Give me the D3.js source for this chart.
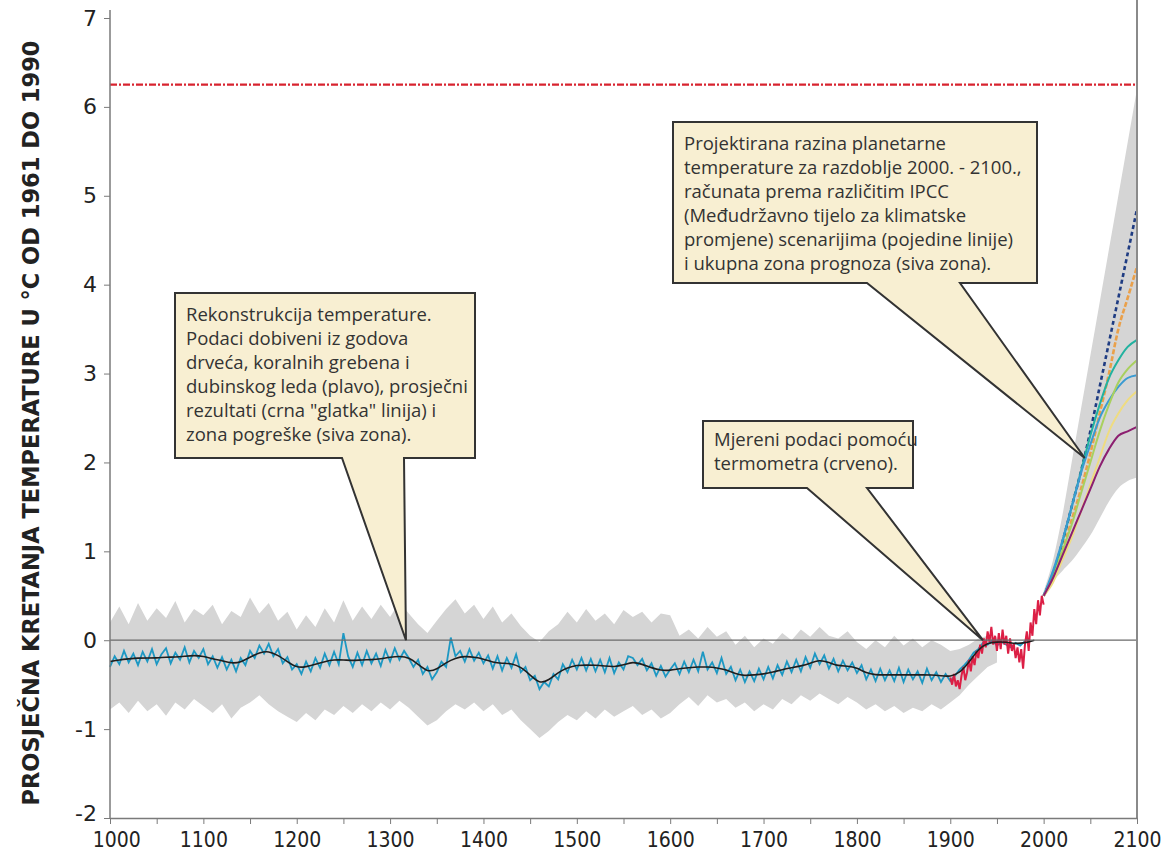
<!DOCTYPE html>
<html>
<head>
<meta charset="utf-8">
<script src="https://cdn.jsdelivr.net/npm/d3@7"></script>
<style>
  body { margin: 0; background: #fff; }
  svg { display: block; }
</style>
</head>
<body>
<svg id="chart"></svg>
<script>
// Reconstructed temperature (blue), every 5 years from 1000
var blueStart = 1000, blueStep = 5;
var blueTemp = [
  -0.30,-0.18,-0.27,-0.12,-0.25,-0.15,-0.28,-0.13,-0.24,-0.10,
  -0.27,-0.16,-0.09,-0.26,-0.14,-0.22,-0.08,-0.25,-0.12,-0.20,
  -0.10,-0.27,-0.18,-0.31,-0.19,-0.33,-0.22,-0.35,-0.20,-0.28,
  -0.12,-0.20,-0.06,-0.15,-0.04,-0.18,-0.10,-0.26,-0.19,-0.33,
  -0.27,-0.38,-0.24,-0.35,-0.20,-0.31,-0.15,-0.28,-0.13,-0.27,
   0.08,-0.18,-0.30,-0.14,-0.28,-0.12,-0.26,-0.15,-0.29,-0.11,
  -0.24,-0.09,-0.22,-0.12,-0.20,-0.30,-0.22,-0.38,-0.30,-0.44,
  -0.36,-0.24,-0.30, 0.03,-0.18,-0.12,-0.24,-0.10,-0.23,-0.14,
  -0.26,-0.17,-0.32,-0.18,-0.34,-0.20,-0.31,-0.16,-0.36,-0.30,
  -0.45,-0.40,-0.55,-0.47,-0.52,-0.38,-0.44,-0.27,-0.36,-0.22,
  -0.33,-0.20,-0.34,-0.21,-0.35,-0.22,-0.36,-0.20,-0.37,-0.25,
  -0.33,-0.18,-0.20,-0.28,-0.21,-0.34,-0.26,-0.40,-0.29,-0.41,
  -0.33,-0.26,-0.38,-0.24,-0.36,-0.22,-0.35,-0.13,-0.33,-0.25,
  -0.37,-0.20,-0.38,-0.30,-0.45,-0.33,-0.47,-0.35,-0.46,-0.32,
  -0.44,-0.30,-0.43,-0.28,-0.39,-0.24,-0.36,-0.22,-0.35,-0.19,
  -0.31,-0.15,-0.27,-0.17,-0.32,-0.21,-0.35,-0.23,-0.34,-0.25,
  -0.37,-0.28,-0.44,-0.33,-0.46,-0.32,-0.45,-0.34,-0.46,-0.31,
  -0.47,-0.33,-0.44,-0.35,-0.48,-0.32,-0.45,-0.36,-0.47,-0.38,
  -0.46,-0.40,-0.33,-0.28,-0.22,-0.14,-0.10,-0.03,-0.05, 0.00,
  -0.06,-0.02,-0.05,-0.08,-0.03,-0.06,-0.01
];

// Smoothed average (black), every 10 years from 1000
var smoothStart = 1000, smoothStep = 10;
var smoothTemp = [
  -0.24,-0.22,-0.21,-0.20,-0.20,-0.20,-0.19,-0.19,-0.18,-0.17,
  -0.18,-0.21,-0.23,-0.26,-0.25,-0.19,-0.14,-0.12,-0.17,-0.24,
  -0.31,-0.30,-0.27,-0.24,-0.22,-0.22,-0.23,-0.22,-0.22,-0.21,
  -0.19,-0.18,-0.19,-0.27,-0.36,-0.33,-0.25,-0.20,-0.18,-0.19,
  -0.21,-0.25,-0.26,-0.26,-0.30,-0.39,-0.49,-0.45,-0.36,-0.31,
  -0.28,-0.28,-0.28,-0.29,-0.30,-0.28,-0.24,-0.27,-0.31,-0.34,
  -0.34,-0.32,-0.31,-0.30,-0.30,-0.31,-0.33,-0.38,-0.40,-0.39,
  -0.38,-0.36,-0.33,-0.31,-0.29,-0.26,-0.22,-0.25,-0.29,-0.29,
  -0.31,-0.37,-0.39,-0.39,-0.39,-0.39,-0.39,-0.39,-0.39,-0.40,
  -0.41,-0.37,-0.25,-0.10,-0.03,-0.02,-0.02,-0.04,-0.03, 0.00
];

// Error zone of the reconstruction (grey), every 10 years from 1000
var bandStart = 1000, bandStep = 10;
var bandUpper = [
   0.20, 0.38, 0.18, 0.42, 0.22, 0.36, 0.25, 0.44, 0.20, 0.35,
   0.28, 0.40, 0.18, 0.33, 0.26, 0.48, 0.30, 0.42, 0.22, 0.32,
   0.12, 0.28, 0.15, 0.36, 0.20, 0.45, 0.22, 0.38, 0.24, 0.40,
   0.26, 0.43, 0.30, 0.18, 0.08, 0.22, 0.35, 0.46, 0.30, 0.40,
   0.24, 0.38, 0.20, 0.30, 0.16, 0.05,-0.02, 0.10, 0.18, 0.32,
   0.20, 0.35, 0.22, 0.30, 0.18, 0.34, 0.26, 0.32, 0.20, 0.30,
   0.28, 0.05, 0.12, 0.02, 0.15, 0.04, 0.10,-0.05, 0.05,-0.08,
   0.02,-0.04, 0.08, 0.00, 0.12, 0.04, 0.15, 0.05, 0.02, 0.10,
  -0.02,-0.10, 0.00,-0.08, 0.05,-0.06, 0.02,-0.08, 0.00,-0.05,
  -0.12,-0.10,-0.05, 0.02, 0.05, 0.03
];
var bandLower = [
  -0.78,-0.70,-0.82,-0.68,-0.80,-0.72,-0.85,-0.70,-0.78,-0.66,
  -0.74,-0.82,-0.72,-0.88,-0.76,-0.70,-0.62,-0.72,-0.80,-0.86,
  -0.92,-0.82,-0.90,-0.78,-0.84,-0.74,-0.82,-0.72,-0.80,-0.70,
  -0.78,-0.68,-0.76,-0.86,-0.96,-0.90,-0.80,-0.72,-0.78,-0.70,
  -0.80,-0.72,-0.84,-0.78,-0.90,-1.00,-1.10,-1.02,-0.92,-0.84,
  -0.90,-0.80,-0.88,-0.78,-0.86,-0.80,-0.74,-0.84,-0.78,-0.88,
  -0.82,-0.72,-0.64,-0.74,-0.62,-0.70,-0.66,-0.76,-0.70,-0.80,
  -0.72,-0.78,-0.66,-0.72,-0.62,-0.68,-0.60,-0.66,-0.72,-0.64,
  -0.70,-0.78,-0.72,-0.80,-0.74,-0.82,-0.76,-0.80,-0.72,-0.78,
  -0.70,-0.62,-0.50,-0.40,-0.30,-0.25
];

// Thermometer measurements (red), every 2 years from 1900
var redStart = 1900, redStep = 2;
var redTemp = [
  -0.42,-0.50,-0.38,-0.52,-0.45,-0.55,-0.40,-0.30,-0.45,-0.36,
  -0.22,-0.35,-0.18,-0.28,-0.12,-0.20,-0.05,-0.15, 0.02,-0.08,
   0.10,-0.02, 0.15,-0.05, 0.05,-0.12, 0.08,-0.10, 0.12,-0.05,
   0.05,-0.15, 0.02,-0.12,-0.04,-0.20,-0.08,-0.25,-0.10,-0.32,
  -0.05, 0.10,-0.12, 0.20, 0.05, 0.35, 0.18, 0.45, 0.28, 0.50,
   0.40
];

// IPCC projections 2000-2100, every 10 years
var projYears = [2000, 2010, 2020, 2030, 2040, 2050, 2060, 2070, 2080, 2090, 2100];
var projUpper = [0.55, 0.90, 1.40, 2.00, 2.60, 3.20, 3.80, 4.40, 5.00, 5.60, 6.20];
var projLower = [0.50, 0.66, 0.78, 0.89, 1.03, 1.18, 1.37, 1.56, 1.71, 1.79, 1.83];
var scenarioNames = ["navy", "orange", "teal", "blue", "green", "yellow", "purple"];
var scenarioValues = [
  [0.50, 0.75, 1.10, 1.50, 1.90, 2.35, 2.85, 3.35, 3.85, 4.35, 4.85],
  [0.50, 0.70, 1.00, 1.35, 1.70, 2.10, 2.55, 3.00, 3.50, 3.85, 4.20],
  [0.50, 0.75, 1.10, 1.50, 1.90, 2.30, 2.65, 2.95, 3.15, 3.30, 3.38],
  [0.50, 0.78, 1.12, 1.50, 1.88, 2.20, 2.50, 2.70, 2.85, 2.95, 2.98],
  [0.50, 0.70, 1.00, 1.30, 1.65, 2.00, 2.35, 2.65, 2.90, 3.05, 3.15],
  [0.50, 0.65, 0.90, 1.15, 1.45, 1.75, 2.05, 2.35, 2.55, 2.70, 2.80],
  [0.50, 0.70, 0.95, 1.20, 1.45, 1.70, 1.95, 2.15, 2.30, 2.35, 2.40]
];
var scenarioColors = ["#1f3c82", "#eaa04a", "#22b2a0", "#3a9bd2", "#a9d05e", "#efdc80", "#8c1f70"];
var scenarioDash = ["4,3", "5,2", null, null, null, null, null];

var maxLine = 6.25;   // red dash-dot limit
var yTicks = [-2, -1, 0, 1, 2, 3, 4, 5, 6, 7];
var xLabels = [1000, 1100, 1200, 1300, 1400, 1500, 1600, 1700, 1800, 1900, 2000, 2100];

// Callout texts with the point each one aims at [year, value]
var notes = [
  { lines: ["Rekonstrukcija temperature.", "Podaci dobiveni iz godova", "drveća, koralnih grebena i",
            "dubinskog leda (plavo), prosječni", "rezultati (crna \"glatka\" linija) i", "zona pogreške (siva zona)."],
    target: [1317, 0], box: [175, 293, 300, 165], base: [342, 404], lh: 24, top: 28 },
  { lines: ["Mjereni podaci pomoću", "termometra (crveno)."],
    target: [1935, 0], box: [703, 421, 210, 67], base: [807, 867], lh: 24, top: 25 },
  { lines: ["Projektirana razina planetarne", "temperature za razdoblje 2000. - 2100.,",
            "računata prema različitim IPCC", "(Međudržavno tijelo za klimatske",
            "promjene) scenarijima (pojedine linije)", "i ukupna zona prognoza (siva zona)."],
    target: [2044, 2.05], box: [673, 122, 364, 161], base: [867, 960], lh: 24, top: 28 }
];

var W = 1175, H = 857;
var svg = d3.select("#chart").attr("width", W).attr("height", H);

var x = d3.scaleLinear().domain([1000, 2100]).range([110, 1137]);
var y = d3.scaleLinear().domain([-2, 7]).range([818, 18]);

function series(start, step, vals) {
  return vals.map((v, i) => ({ year: start + i * step, v: v }));
}

// Grey error zone
var bandData = bandUpper.map((u, i) => ({ year: bandStart + i * bandStep, hi: u, lo: bandLower[i] }));
svg.append("path")
  .datum(bandData)
  .attr("fill", "#d5d5d5")
  .attr("d", d3.area().x(d => x(d.year)).y0(d => y(d.lo)).y1(d => y(d.hi)));

// Projection zone
var projBand = projYears.map((yr, i) => ({ year: yr, hi: projUpper[i], lo: projLower[i] }));
svg.append("path")
  .datum(projBand)
  .attr("fill", "#d5d5d5")
  .attr("d", d3.area().curve(d3.curveMonotoneX).x(d => x(d.year)).y0(d => y(d.lo)).y1(d => y(d.hi)));

var line = d3.line().x(d => x(d.year)).y(d => y(d.v));

// Blue reconstruction
svg.append("path")
  .datum(series(blueStart, blueStep, blueTemp))
  .attr("fill", "none").attr("stroke", "#1d98c3").attr("stroke-width", 1.8)
  .attr("d", line);

// Red thermometer data
svg.append("path")
  .datum(series(redStart, redStep, redTemp))
  .attr("fill", "none").attr("stroke", "#dc1f45").attr("stroke-width", 2)
  .attr("d", line);

// Black smooth line
svg.append("path")
  .datum(series(smoothStart, smoothStep, smoothTemp))
  .attr("fill", "none").attr("stroke", "#1e1e1e").attr("stroke-width", 1.6)
  .attr("d", d3.line().curve(d3.curveBasis).x(d => x(d.year)).y(d => y(d.v)));

// Scenario lines
var smoothLine = d3.line().curve(d3.curveMonotoneX).x(d => x(d.year)).y(d => y(d.v));
scenarioNames.forEach(function(name, k) {
  svg.append("path")
    .datum(projYears.map((yr, i) => ({ year: yr, v: scenarioValues[k][i] })))
    .attr("class", "scenario " + name)
    .attr("fill", "none")
    .attr("stroke", scenarioColors[k])
    .attr("stroke-width", scenarioDash[k] ? 2.6 : 2)
    .attr("stroke-dasharray", scenarioDash[k])
    .attr("d", smoothLine);
});

// Zero line
svg.append("line")
  .attr("x1", x(1000)).attr("x2", x(2100))
  .attr("y1", y(0)).attr("y2", y(0))
  .attr("stroke", "#6a6a6a").attr("stroke-width", 1.3);

// Red dash-dot limit line
svg.append("line")
  .attr("x1", x(1000)).attr("x2", x(2100))
  .attr("y1", y(maxLine)).attr("y2", y(maxLine))
  .attr("stroke", "#d8232f").attr("stroke-width", 2.2)
  .attr("stroke-dasharray", "7,2,2,2");

// Right border line
svg.append("line")
  .attr("x1", x(2100)).attr("x2", x(2100))
  .attr("y1", 0).attr("y2", y(-2))
  .attr("stroke", "#8a8a8a").attr("stroke-width", 2);

// Y axis
var yAxis = svg.append("g")
  .attr("transform", "translate(" + x(1000) + ",0)")
  .call(d3.axisLeft(y).tickValues(yTicks).tickSize(6).tickSizeOuter(0).tickPadding(7).tickFormat(d3.format("d")));
yAxis.select(".domain").attr("stroke", "#7a7a7a").attr("stroke-width", 1.5)
  .attr("d", "M0," + (y(7) - 8) + "V" + y(-2));
yAxis.selectAll(".tick line").attr("stroke", "#7a7a7a");
yAxis.selectAll(".tick text")
  .attr("font-family", "DejaVu Sans, sans-serif")
  .attr("font-size", 22)
  .attr("fill", "#222")
  .text(d => d < 0 ? "-" + Math.abs(d) : d);
// lift the lowest label a little so it clears the year labels
yAxis.selectAll(".tick text").filter(d => d === -2).attr("dy", "0.1em");

// X axis, minor ticks every 50 years
var xAxis = svg.append("g")
  .attr("transform", "translate(0," + y(-2) + ")")
  .call(d3.axisBottom(x).tickValues(d3.range(1000, 2101, 50)).tickSize(6).tickSizeOuter(0).tickPadding(8)
    .tickFormat(d => xLabels.indexOf(d) >= 0 ? d : ""));
xAxis.select(".domain").attr("stroke", "#7a7a7a").attr("stroke-width", 1.5);
xAxis.selectAll(".tick line").attr("stroke", "#7a7a7a");
xAxis.selectAll(".tick text")
  .attr("font-family", "DejaVu Sans Condensed, DejaVu Sans, sans-serif")
  .attr("font-size", 21)
  .attr("fill", "#222");
xAxis.selectAll(".tick text").filter(d => d === 1000).attr("dx", "0.3em");

// Y axis title
svg.append("text")
  .attr("transform", "translate(39,423) rotate(-90)")
  .attr("text-anchor", "middle")
  .attr("font-family", "DejaVu Sans Condensed, DejaVu Sans, sans-serif")
  .attr("font-weight", "bold")
  .attr("font-size", 23)
  .attr("textLength", 765)
  .attr("lengthAdjust", "spacingAndGlyphs")
  .attr("fill", "#222")
  .text("PROSJEČNA KRETANJA TEMPERATURE U °C OD 1961 DO 1990");

// Callouts: box with a wedge pointing at the data
notes.forEach(function(n) {
  var bx = n.box[0], by = n.box[1], bw = n.box[2], bh = n.box[3];
  var tx = x(n.target[0]), ty = y(n.target[1]);
  var p = d3.path();
  p.moveTo(bx, by);
  p.lineTo(bx + bw, by);
  p.lineTo(bx + bw, by + bh);
  p.lineTo(n.base[1], by + bh);
  p.lineTo(tx, ty);
  p.lineTo(n.base[0], by + bh);
  p.lineTo(bx, by + bh);
  p.closePath();
  svg.append("path")
    .attr("d", p.toString())
    .attr("fill", "#f8efd2")
    .attr("stroke", "#333")
    .attr("stroke-width", 2)
    .attr("stroke-linejoin", "miter");

  var t = svg.append("text")
    .attr("font-family", "Open Sans, sans-serif")
    .attr("font-size", 18.5)
    .attr("fill", "#333");
  n.lines.forEach(function(s, i) {
    t.append("tspan")
      .attr("x", bx + 11)
      .attr("y", by + n.top + i * n.lh)
      .text(s);
  });
});
</script>
</body>
</html>
